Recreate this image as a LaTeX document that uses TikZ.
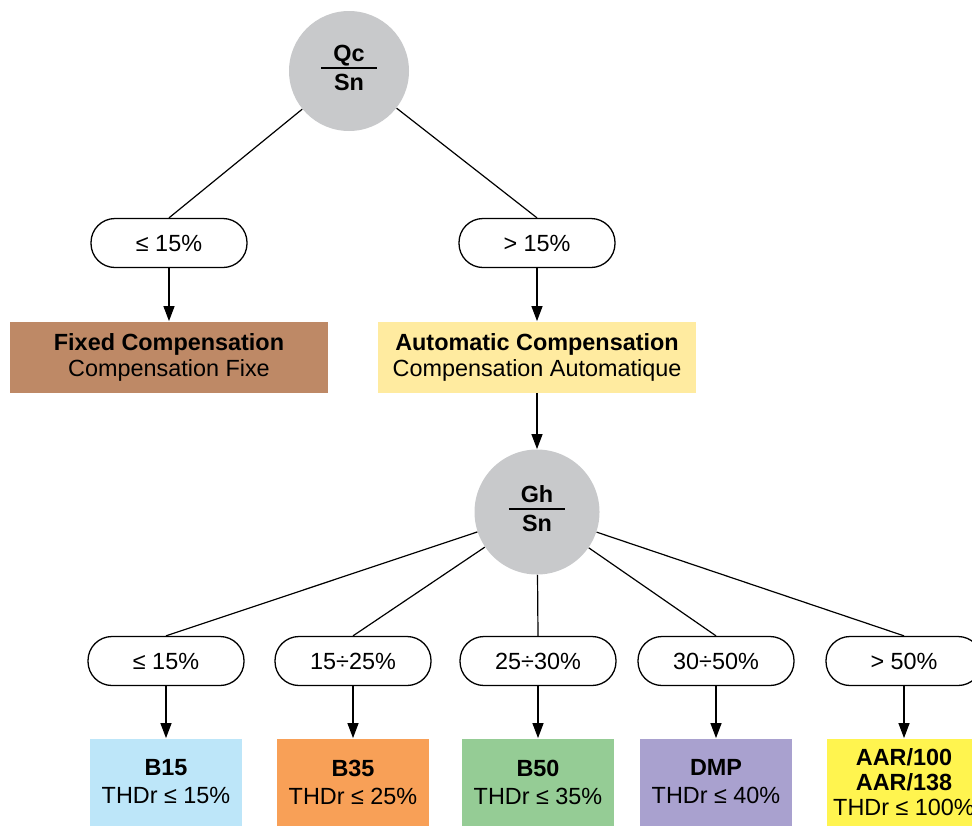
\documentclass[tikz,border=0pt]{standalone}
\usepackage{fontspec}
\setmainfont{Liberation Sans}
\usepackage{xcolor}
\usetikzlibrary{arrows.meta, positioning}

\definecolor{ratiogray}{HTML}{C8C9CB}
\definecolor{fixedbrown}{HTML}{BE8966}
\definecolor{autoyellow}{HTML}{FFEBA0}
\definecolor{bluebox}{HTML}{BDE6F9}
\definecolor{orangebox}{HTML}{F8A057}
\definecolor{greenbox}{HTML}{95CC95}
\definecolor{lilacbox}{HTML}{A9A1CF}
\definecolor{aaryellow}{HTML}{FFF44F}

% stacked ratio with a bar between both parts
\newcommand{\ratiofrac}[2]{%
  \setlength{\arrayrulewidth}{0.7pt}%
  \begin{tabular}{@{\hspace{6pt}}c@{\hspace{6pt}}}\textbf{#1}\\[-1pt]\hline\rule{0pt}{11pt}\textbf{#2}\end{tabular}}

\begin{document}
\begin{tikzpicture}[x=0.5pt, y=-0.5pt,
  every node/.style={font=\fontsize{11.7}{13}\selectfont},
  ratio/.style={circle, fill=ratiogray, minimum size=60pt, inner sep=0pt},
  cond/.style={draw, rounded corners=12pt, minimum width=78pt, minimum height=24.5pt, line width=0.65pt},
  result/.style={align=center, minimum width=159pt, minimum height=35.5pt},
  product/.style={align=center, minimum width=76pt, minimum height=43.5pt, font=\fontsize{11.7}{14}\selectfont},
  link/.style={line width=0.6pt},
  flow/.style={link, -{Triangle[width=5.5pt, length=7.5pt]}},
]
\useasboundingbox (0,0) rectangle (972,825);
\clip (0,0) rectangle (972,825);

% First decision: Qc/Sn
\node[ratio] (qc) at (349,71) {\ratiofrac{Qc}{Sn}};
\node[cond] (low) at (169,243) {≤ 15\%};
\node[cond] (high) at (537,243) {> 15\%};
\node[result, fill=fixedbrown] (fixed) at (169,357) {\textbf{Fixed Compensation}\\Compensation Fixe};
\node[result, fill=autoyellow] (auto) at (537,357) {\textbf{Automatic Compensation}\\Compensation Automatique};

\draw[link] (qc) -- (low.north);
\draw[link] (qc) -- (high.north);
\draw[flow] (low) -- (fixed);
\draw[flow] (high) -- (auto);

% Second decision: Gh/Sn
\node[ratio, minimum size=62.5pt] (gh) at (537,512) {\ratiofrac{Gh}{Sn}};
\draw[flow] (auto) -- (gh);

\node[cond] (c15) at (166,661) {≤ 15\%};
\node[cond] (c25) at (353,661) {15÷25\%};
\node[cond] (c30) at (538,661) {25÷30\%};
\node[cond] (c50) at (716,661) {30÷50\%};
\node[cond] (cmax) at (904,661) {> 50\%};

\node[product, fill=bluebox] (b15) at (166,782) {\textbf{B15}\\THDr ≤ 15\%};
\node[product, fill=orangebox] (b35) at (353,782) {\textbf{B35}\\THDr ≤ 25\%};
\node[product, fill=greenbox] (b50) at (538,782) {\textbf{B50}\\THDr ≤ 35\%};
\node[product, fill=lilacbox] (dmp) at (716,782) {\textbf{DMP}\\THDr ≤ 40\%};
\node[product, fill=aaryellow, font=\fontsize{11.7}{12.5}\selectfont] (aar) at (904,782) {\textbf{AAR/100}\\\textbf{AAR/138}\\THDr ≤ 100\%};

\draw[link] (gh) -- (c15.north);
\draw[link] (gh) -- (c25.north);
\draw[link] (gh) -- (c30.north);
\draw[link] (gh) -- (c50.north);
\draw[link] (gh) -- (cmax.north);
\draw[flow] (c15) -- (b15);
\draw[flow] (c25) -- (b35);
\draw[flow] (c30) -- (b50);
\draw[flow] (c50) -- (dmp);
\draw[flow] (cmax) -- (aar);
\end{tikzpicture}
\end{document}
